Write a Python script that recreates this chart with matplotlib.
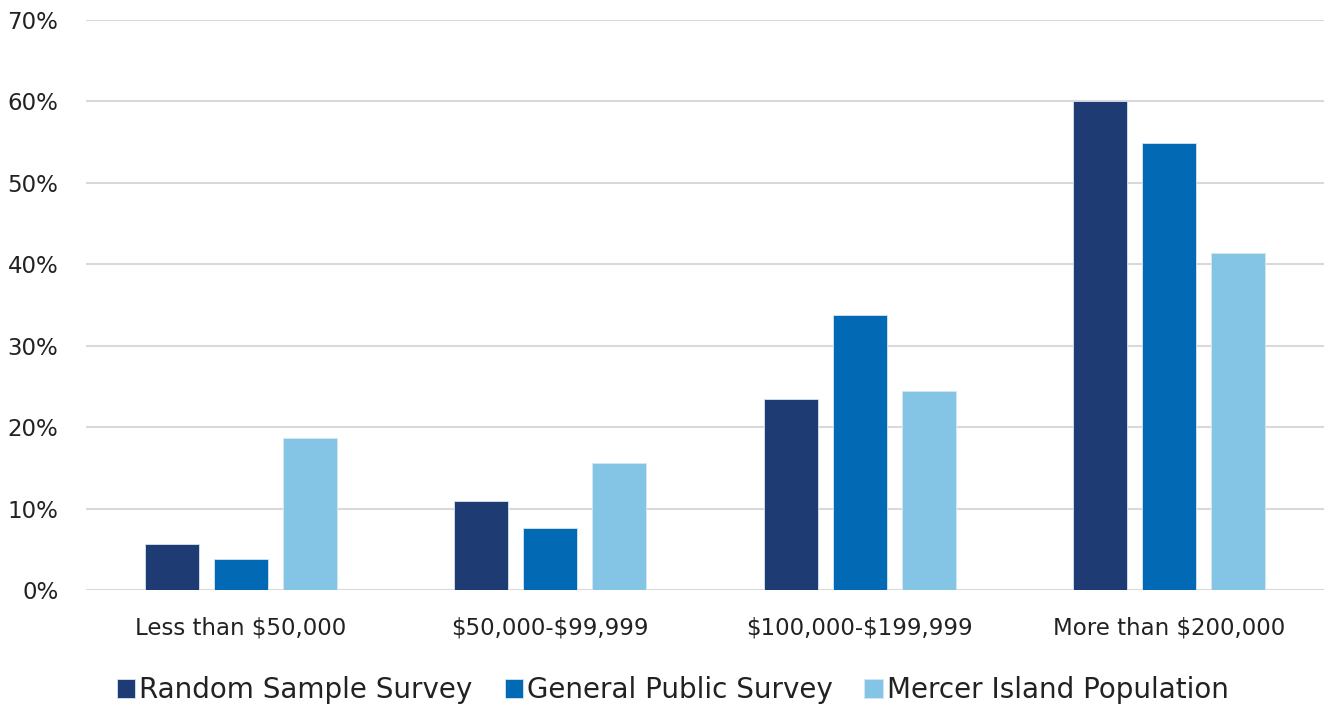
import matplotlib.pyplot as plt
import numpy as np
from matplotlib.ticker import PercentFormatter

categories = ['Less than \\$50,000', '\\$50,000-\\$99,999', '\\$100,000-\\$199,999', 'More than \\$200,000']
random_sample = [5.7, 10.9, 23.5, 60.0]
general_public = [3.8, 7.6, 33.8, 54.9]
mercer_population = [18.7, 15.6, 24.4, 41.4]

series = [
    ('Random Sample Survey', random_sample, '#1F3B73'),
    ('General Public Survey', general_public, '#0269B4'),
    ('Mercer Island Population', mercer_population, '#84C5E5'),
]

plt.rcParams['font.family'] = ['DejaVu Sans']

fig = plt.figure(figsize=(13.24, 7.04), dpi=100)
ax = fig.add_axes([0.065, 0.162, 0.935, 0.8096])

x = np.arange(len(categories))
offsets = [-0.223, 0.0, 0.223]
width = 0.175
for (name, vals, color), off in zip(series, offsets):
    ax.bar(x + off, vals, width, color=color, label=name,
           edgecolor='#D6E6F2', linewidth=0.6, zorder=3)

ax.set_xlim(-0.5, 3.5)
ax.set_ylim(0, 70)
ax.set_yticks(np.arange(0, 71, 10))
ax.yaxis.set_major_formatter(PercentFormatter(decimals=0))
ax.grid(axis='y', color='#D9D9D9', linewidth=1.5, zorder=0)
for s in ax.spines.values():
    s.set_visible(False)
ax.tick_params(axis='both', length=0, labelsize=16.5, colors='#222222')
ax.tick_params(axis='y', pad=20)
ax.tick_params(axis='x', pad=19)
ax.set_xticks(x)
ax.set_xticklabels(categories)

ax.legend(loc='upper center', bbox_to_anchor=(0.474, -0.117), ncol=3, frameon=False,
          fontsize=20, handlelength=0.65, handleheight=0.65, handletextpad=0.15,
          columnspacing=1.15, labelcolor='#222222', borderpad=0.2)

fig.savefig('out.png', dpi=100, facecolor='white')
